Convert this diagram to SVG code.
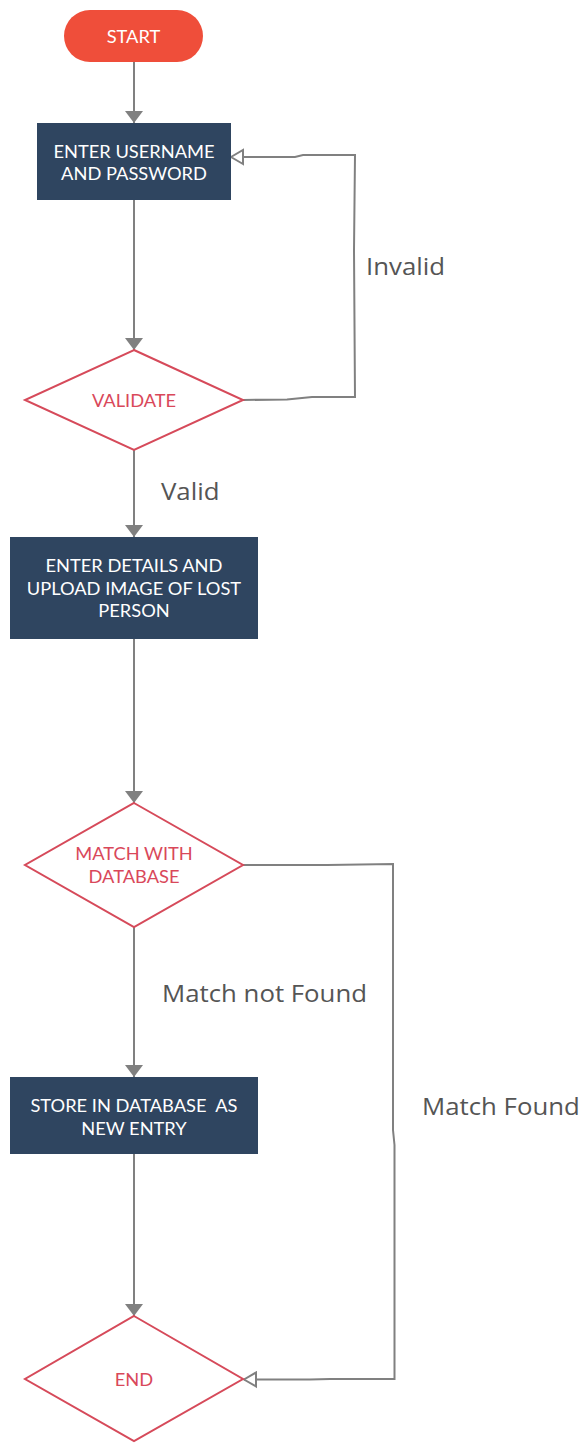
<svg xmlns="http://www.w3.org/2000/svg" width="582" height="1443" viewBox="0 0 582 1443">
  <style>
    .bg { fill: #ffffff; }
    .term { fill: #ef4e3a; }
    .proc { fill: #2f4560; }
    .dec { fill: #ffffff; stroke: #d64a5a; stroke-width: 2; stroke-linejoin: miter; }
    .ntext { font-family: Lato, "Open Sans", "Liberation Sans", sans-serif; font-size: 17.5px; text-anchor: middle;
             transform-box: fill-box; transform-origin: center; transform: scaleX(1.045); }
    .light { fill: #ffffff; }
    .red { fill: #d9485a; }
    .edge { fill: none; stroke: #808080; stroke-width: 2; }
    .label { font-family: "Open Sans", "Noto Sans", "Liberation Sans", sans-serif; font-size: 24px; fill: #555555;
             transform-box: fill-box; transform-origin: left center; transform: scaleX(1.075); }
  </style>
  <defs>
    <marker id="solid" viewBox="0 0 12 18" refX="12" refY="9" markerWidth="12" markerHeight="18" markerUnits="userSpaceOnUse" orient="auto">
      <path d="M0,0 L12,9 L0,18 Z" fill="#808080"/>
    </marker>
    <marker id="hollow" viewBox="0 0 14 18" refX="13" refY="9" markerWidth="14" markerHeight="18" markerUnits="userSpaceOnUse" orient="auto">
      <path d="M1,2 L13,9 L1,16 Z" fill="#ffffff" stroke="#808080" stroke-width="2"/>
    </marker>
  </defs>

  <rect class="bg" x="0" y="0" width="582" height="1443"/>

  <g id="connectors">
    <path class="edge" d="M134,62 V123" marker-end="url(#solid)"/>
    <path class="edge" d="M134,200 V350" marker-end="url(#solid)"/>
    <path class="edge" d="M243,400 L287,399.5 L312,397 L355,397 L354,250 L355,155 L303,155 L295,157 L231,157" marker-end="url(#hollow)"/>
    <path class="edge" d="M134,450 V537" marker-end="url(#solid)"/>
    <path class="edge" d="M134,639 V803" marker-end="url(#solid)"/>
    <path class="edge" d="M134,927 V1077" marker-end="url(#solid)"/>
    <path class="edge" d="M243,865 L327,865 L393,864 L393,1130 L394.5,1145 L394.5,1379 L330,1379 L310,1379.5 L244,1379.5" marker-end="url(#hollow)"/>
    <path class="edge" d="M134,1154 V1316" marker-end="url(#solid)"/>
  </g>

  <g id="edge-labels">
    <text class="label" x="366" y="275">Invalid</text>
    <text class="label" x="161" y="500">Valid</text>
    <text class="label" x="162" y="1002">Match not Found</text>
    <text class="label" x="422" y="1115">Match Found</text>
  </g>

  <g id="start">
    <rect class="term" x="64" y="10" width="139" height="52" rx="26" ry="26"/>
    <text class="ntext light" x="133.5" y="43.5">START</text>
  </g>

  <g id="enter-credentials">
    <rect class="proc" x="37" y="123" width="194" height="77"/>
    <text class="ntext light" x="134" y="158">ENTER USERNAME</text>
    <text class="ntext light" x="134" y="180.5">AND PASSWORD</text>
  </g>

  <g id="validate">
    <polygon class="dec" points="134,350 243,400 134,450 25,400"/>
    <text class="ntext red" x="134" y="407">VALIDATE</text>
  </g>

  <g id="enter-details">
    <rect class="proc" x="10" y="537" width="248" height="102"/>
    <text class="ntext light" x="134" y="572">ENTER DETAILS AND</text>
    <text class="ntext light" x="134" y="595">UPLOAD IMAGE OF LOST</text>
    <text class="ntext light" x="134" y="617.5">PERSON</text>
  </g>

  <g id="match-database">
    <polygon class="dec" points="134,803 243,865 134,927 25,865"/>
    <text class="ntext red" x="134" y="860">MATCH WITH</text>
    <text class="ntext red" x="134" y="883">DATABASE</text>
  </g>

  <g id="store-entry">
    <rect class="proc" x="10" y="1077" width="248" height="77"/>
    <text class="ntext light" x="134" y="1112" xml:space="preserve">STORE IN DATABASE  AS</text>
    <text class="ntext light" x="134" y="1135">NEW ENTRY</text>
  </g>

  <g id="end">
    <polygon class="dec" points="134,1316 243,1379 134,1441 25,1379"/>
    <text class="ntext red" x="134" y="1386">END</text>
  </g>
</svg>
